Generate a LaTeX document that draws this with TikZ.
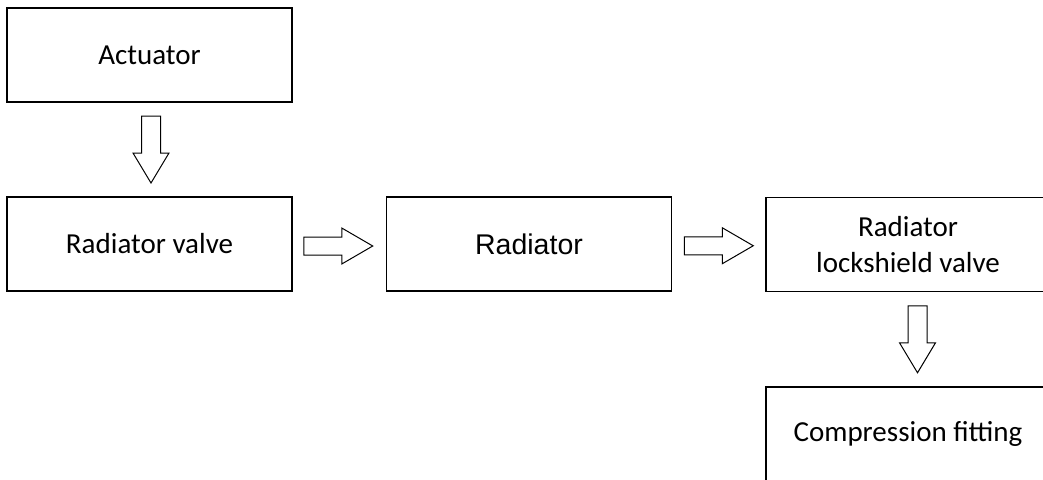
\documentclass[tikz,border=0pt]{standalone}
\usepackage{fontspec}
\newfontfamily\calfont{Carlito}
\newfontfamily\arifont{Liberation Sans}
\usetikzlibrary{calc}
\tikzset{
  boxnode/.style={draw=black, line width=1.6pt, rectangle, minimum width=285pt, minimum height=94pt, inner sep=0pt, align=center, font=\calfont\fontsize{29}{35.4}\selectfont},
  arrowline/.style={draw=black, line width=1pt, line join=miter, fill=white},
  darrow/.pic={\path[arrowline] (-9.5,-33.5) -- (9.5,-33.5) -- (9.5,3.5) -- (18,3.5) -- (0,33.5) -- (-18,3.5) -- (-9.5,3.5) -- cycle;},
  rarrow/.pic={\path[arrowline] (-34.5,-9) -- (3.5,-9) -- (3.5,-18) -- (34.5,0) -- (3.5,18) -- (3.5,9) -- (-34.5,9) -- cycle;}
}
\begin{document}
\begin{tikzpicture}[x=1pt,y=-1pt]
\useasboundingbox (0,0) rectangle (1043,479);
\clip (0,0) rectangle (1043,479);
\node[boxnode] (act) at (149.5,55) {Actuator};
\node[boxnode] (rv) at (149.5,244) {Radiator valve};
\node[boxnode, font=\arifont\fontsize{28.5}{34}\selectfont] (rad) at (529,244) {Radiator};
\node[boxnode, minimum width=284pt] (lsv) at (908,244.5) {Radiator\\lockshield valve};
\node[boxnode, minimum width=284pt] (cf) at (908,434) {Compression fitting};
\pic at ($($(act.south)!0.5!(rv.north)$)+(1.5,0)$) {darrow};
\pic at ($($(rv.east)!0.5!(rad.west)$)+(-1,2)$) {rarrow};
\pic at ($($(rad.east)!0.5!(lsv.west)$)+(0,1.5)$) {rarrow};
\pic at ($($(lsv.south)!0.5!(cf.north)$)+(9.5,0)$) {darrow};
\end{tikzpicture}
\end{document}
